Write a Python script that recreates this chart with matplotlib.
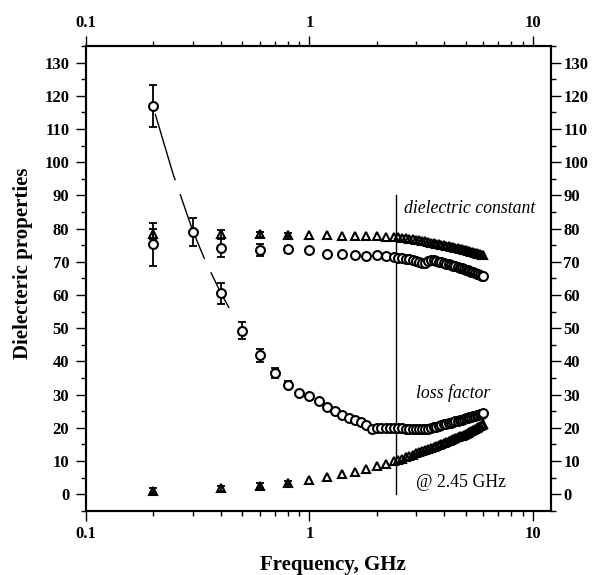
import matplotlib
matplotlib.use("Agg")
import matplotlib.pyplot as plt
from matplotlib.ticker import FixedLocator, FixedFormatter, MultipleLocator

# frequencies (GHz)
freq_lo = [0.2, 0.4, 0.6, 0.8, 1.0, 1.2, 1.4, 1.6, 1.8, 2.0, 2.2, 2.4]
freq_hi = [2.5, 2.6, 2.7, 2.8, 2.9, 3.0, 3.1, 3.2, 3.3, 3.4, 3.5, 3.6,
           3.7, 3.8, 3.9, 4.0, 4.1, 4.2, 4.3, 4.4, 4.5, 4.6, 4.7, 4.8,
           4.9, 5.0, 5.1, 5.2, 5.3, 5.4, 5.5, 5.6, 5.7, 5.8, 5.9, 6.0]
freq_loss_lo = [0.2, 0.3, 0.4, 0.5, 0.6, 0.7, 0.8, 0.9, 1.0, 1.1, 1.2, 1.3,
                1.4, 1.5, 1.6, 1.7, 1.8, 1.9, 2.0, 2.1, 2.2, 2.3, 2.4]

# dielectric constant, triangles
eps_tri = [78.3, 78.3, 78.3, 78.2, 78.1, 78.0, 77.9, 77.8, 77.8, 77.7, 77.6, 77.5,
           77.4, 77.3, 77.1, 77.0, 76.8, 76.6, 76.5, 76.3, 76.2, 76.0, 75.8, 75.6,
           75.5, 75.3, 75.2, 75.0, 74.9, 74.7, 74.6, 74.4, 74.3, 74.2, 74.0, 73.9,
           73.7, 73.6, 73.4, 73.3, 73.1, 72.9, 72.8, 72.6, 72.5, 72.3, 72.2, 72.0]
eps_tri_err = [1.5, 1.2, 0.8, 0.6]

# dielectric constant, circles
eps_circ = [75.3, 74.2, 73.6, 73.8, 73.7, 72.5, 72.4, 72.1, 71.7, 72.1, 71.9, 71.5,
            71.3, 71.1, 70.9, 70.7, 70.4, 70.1, 69.8, 69.5, 69.6, 70.2, 70.5, 70.4,
            70.2, 70.0, 69.8, 69.6, 69.4, 69.2, 69.0, 68.8, 68.6, 68.4, 68.2, 68.0,
            67.8, 67.6, 67.4, 67.2, 67.0, 66.8, 66.6, 66.4, 66.2, 66.0, 65.8, 65.6]
eps_circ_err = [6.5, 2.8, 1.8, 1.0]

# loss factor, circles
loss_circ = [117.0, 79.0, 60.5, 49.2, 41.8, 36.5, 33.0, 30.5, 29.6, 28.0, 26.3, 24.9,
             23.9, 23.0, 22.4, 21.6, 20.8, 19.5, 19.8, 20.0, 20.0, 19.9, 19.9,
             19.8, 19.8, 19.7, 19.7, 19.6, 19.6, 19.5, 19.5, 19.6, 19.7, 19.9, 20.1,
             20.3, 20.5, 20.8, 21.0, 21.2, 21.3, 21.5, 21.7, 21.9, 22.0, 22.2, 22.4,
             22.6, 22.8, 22.9, 23.1, 23.3, 23.4, 23.6, 23.8, 23.9, 24.1, 24.2, 24.4]
loss_circ_err = [6.3, 4.2, 3.2, 2.6, 2.0, 1.6, 1.0]

# loss factor, triangles
loss_tri = [1.0, 1.7, 2.5, 3.4, 4.4, 5.3, 6.0, 6.8, 7.6, 8.4, 9.2, 9.9,
            10.3, 10.7, 11.1, 11.5, 11.9, 12.3, 12.6, 12.9, 13.2, 13.5, 13.8, 14.1,
            14.4, 14.7, 15.0, 15.3, 15.6, 15.9, 16.2, 16.5, 16.8, 17.1, 17.4, 17.6,
            17.9, 18.2, 18.5, 18.8, 19.1, 19.3, 19.6, 19.9, 20.2, 20.4, 20.7, 21.0]
loss_tri_err = [0.8, 0.8, 0.8, 0.6]

# dashed trend line through the first loss points
fit_freq = [0.204, 0.245, 0.3, 0.341, 0.4, 0.437]
fit_val = [114.6, 96.6, 79.5, 70.5, 60.8, 56.1]

f_245 = 2.45

freq_all = freq_lo + freq_hi
freq_loss = freq_loss_lo + freq_hi

plt.rcParams["font.family"] = ["Liberation Serif", "DejaVu Serif"]

fig = plt.figure(figsize=(5.95, 5.75), dpi=100)
ax = fig.add_axes([0.1445, 0.1118, 0.7815, 0.808])

ax.plot(fit_freq, fit_val, color="black", lw=1.0, dashes=(50, 10.5), zorder=2)
ax.plot([f_245, f_245], [0, 90], color="black", lw=1.0, zorder=1)


def draw(freq, vals, errs, marker, face):
    n = len(errs)
    ax.errorbar(freq[:n], vals[:n], yerr=errs, fmt="none", ecolor="black",
                elinewidth=1.3, capsize=3.2, capthick=1.3, zorder=3)
    ax.plot(freq, vals, linestyle="none", marker=marker, ms=6.4, mfc=face,
            mec="black", mew=1.5, zorder=4)


draw(freq_all, eps_circ, eps_circ_err, "o", "white")
draw(freq_all, eps_tri, eps_tri_err, "^", "none")
draw(freq_loss, loss_circ, loss_circ_err, "o", "white")
draw(freq_all, loss_tri, loss_tri_err, "^", "none")

ax.set_xscale("log")
ax.set_xlim(0.1, 12.05)
ax.set_ylim(-5, 135)

ax.xaxis.set_major_locator(FixedLocator([0.1, 1, 10]))
ax.xaxis.set_major_formatter(FixedFormatter(["0.1", "1", "10"]))
ax.xaxis.set_minor_locator(FixedLocator([0.2, 0.3, 0.4, 0.5, 0.6, 0.7, 0.8, 0.9,
                                         2, 3, 4, 5, 6, 7, 8, 9]))
ax.xaxis.set_minor_formatter(FixedFormatter([""] * 16))

# right-hand axis as a twin so its labels get their own padding
ax2 = ax.twinx()
ax2.set_ylim(ax.get_ylim())

for a in (ax, ax2):
    a.yaxis.set_major_locator(FixedLocator(list(range(0, 131, 10))))
    a.yaxis.set_minor_locator(MultipleLocator(5))
    for s in a.spines.values():
        s.set_linewidth(1.5)

ax.tick_params(which="both", direction="out", top=True, labeltop=True,
               right=False, width=1.0, colors="black")
ax.tick_params(which="major", length=7)
ax.tick_params(which="minor", length=3.6)
ax.tick_params(axis="both", labelsize=12)
ax.tick_params(axis="x", pad=4)
ax.tick_params(axis="y", pad=5)
ax2.tick_params(which="both", direction="out", width=1.0, colors="black")
ax2.tick_params(which="major", length=7, labelsize=12, pad=2)
ax2.tick_params(which="minor", length=3.6)

for t in ax.xaxis.get_major_ticks() + ax.yaxis.get_major_ticks() + ax2.yaxis.get_major_ticks():
    t.label1.set_fontweight("bold")
    t.label2.set_fontweight("bold")

ax.set_xlabel("Frequency, GHz", fontsize=15, fontweight="bold")
ax.set_ylabel("Dielecteric properties", fontsize=15, fontweight="bold")
ax.xaxis.set_label_coords(0.531, -0.096)
ax.yaxis.set_label_coords(-0.115, 0.532)

ax2.text(2.64, 86.1, "dielectric constant", style="italic", fontsize=12.8,
         ha="left", va="center", transform=ax.transData)
ax2.text(3.01, 30.5, "loss factor", style="italic", fontsize=12.8,
         ha="left", va="center", transform=ax.transData)
ax2.text(3.01, 3.5, "@ 2.45 GHz", fontsize=12.8, ha="left", va="center",
         transform=ax.transData)

fig.savefig("out.png", dpi=100, facecolor="white")
